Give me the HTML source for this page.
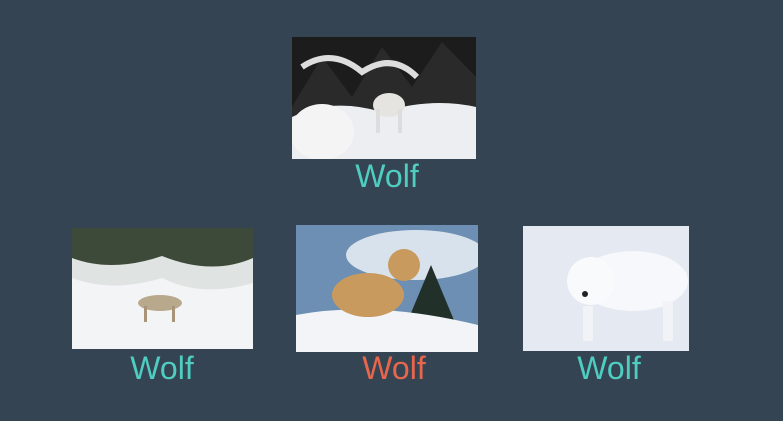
<!DOCTYPE html>
<html><head><meta charset="utf-8"><style>
html,body{margin:0;padding:0;}
body{width:783px;height:421px;background:#354453;position:relative;overflow:hidden;font-family:"Liberation Sans",sans-serif;}
.img{position:absolute;}
.lbl{position:absolute;font-size:32px;text-align:center;width:200px;line-height:32px;}
.t{color:#4ecdc0}.r{color:#e8664c}
</style></head><body>
<svg class="img" style="left:292px;top:37px" width="184" height="122" viewBox="0 0 184 122">
<rect width="184" height="122" fill="#2a2a2a"/>
<path d="M0 70 L30 20 L60 60 L90 10 L120 50 L150 5 L184 40 L184 0 L0 0Z" fill="#1c1c1c"/>
<path d="M10 30 Q40 10 70 35 Q100 15 125 40" stroke="#ddd" stroke-width="6" fill="none"/>
<path d="M0 122 L0 80 Q40 60 90 75 Q140 60 184 70 L184 122Z" fill="#eceef2"/>
<ellipse cx="30" cy="95" rx="32" ry="28" fill="#f4f4f4"/>
<ellipse cx="97" cy="68" rx="16" ry="12" fill="#e6e4e0"/>
<rect x="84" y="72" width="4" height="24" fill="#ddd"/><rect x="106" y="72" width="4" height="24" fill="#ddd"/>
</svg>
<div class="lbl t" style="left:287px;top:160px">Wolf</div>

<svg class="img" style="left:72px;top:228px" width="181" height="121" viewBox="0 0 181 121">
<rect width="181" height="121" fill="#f3f4f6"/>
<path d="M0 0 H181 V40 Q140 55 100 35 Q60 55 0 40Z" fill="#3d4a3a"/>
<path d="M0 30 Q40 45 90 28 Q140 48 181 30 V55 Q130 70 90 50 Q40 65 0 50Z" fill="#dfe4e2"/>
<ellipse cx="88" cy="75" rx="22" ry="8" fill="#b8a88c"/>
<rect x="72" y="78" width="3" height="16" fill="#a89478"/><rect x="100" y="78" width="3" height="16" fill="#a89478"/>
</svg>
<div class="lbl t" style="left:62px;top:352px">Wolf</div>

<svg class="img" style="left:296px;top:225px" width="182" height="127" viewBox="0 0 182 127">
<rect width="182" height="127" fill="#6d8fb3"/>
<ellipse cx="120" cy="30" rx="70" ry="25" fill="#d8e2ec"/>
<path d="M110 100 L135 40 L160 100Z" fill="#22302a"/>
<path d="M0 127 V90 Q80 75 182 100 V127Z" fill="#f2f4f7"/>
<ellipse cx="72" cy="70" rx="36" ry="22" fill="#c99a5e"/>
<circle cx="108" cy="40" r="16" fill="#c99a5e"/>
</svg>
<div class="lbl r" style="left:294px;top:352px">Wolf</div>

<svg class="img" style="left:523px;top:226px" width="166" height="125" viewBox="0 0 166 125">
<rect width="166" height="125" fill="#e4e9f2"/>
<ellipse cx="110" cy="55" rx="55" ry="30" fill="#f7f8fb"/>
<circle cx="68" cy="55" r="24" fill="#f9fafc"/>
<circle cx="62" cy="68" r="3" fill="#222"/>
<rect x="60" y="80" width="10" height="35" fill="#f2f3f7"/><rect x="140" y="75" width="10" height="40" fill="#f2f3f7"/>
</svg>
<div class="lbl t" style="left:509px;top:352px">Wolf</div>
</body></html>
